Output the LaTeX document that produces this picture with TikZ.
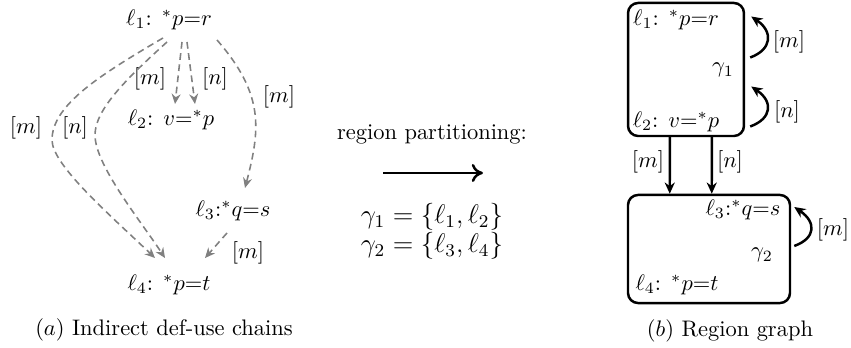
\documentclass[tikz,border=0pt]{standalone}
\usetikzlibrary{arrows.meta,calc}
\begin{document}
\begin{tikzpicture}[x=0.445pt,y=-0.445pt,
  lbl/.style={inner sep=1pt},
  grayarr/.style={draw=gray,line width=0.7pt,dash pattern=on 3pt off 2pt,-{Stealth[length=4.5pt,width=4pt]}},
  blk/.style={draw=black,line width=1.1pt,-{Stealth[length=5pt,width=4.5pt]}},
  box/.style={draw=black,line width=1.1pt,rounded corners=4.5pt,inner sep=0pt}]
\useasboundingbox (0,0) rectangle (851,348);
% ---------- left panel
\node[lbl] (l1) at (169,20) {$\ell_1$: ${}^*p{=}r$};
\node[lbl] (l2) at (171,120) {$\ell_2$: $v{=}{}^*p$};
\node[lbl] (l3) at (233,211) {$\ell_3$:${}^*q{=}s$};
\node[lbl] (l4) at (169,285) {$\ell_4$: ${}^*p{=}t$};
\node (ca) at (164,330) {$(a)$ Indirect def-use chains};

\draw[grayarr] ($(l1)+(13,22)$) -- ($(l2)+(4,-16)$);
\draw[grayarr] ($(l1)+(18,22)$) -- ($(l2)+(24,-16)$);
\node[lbl] (m1) at (150,79) {$[m]$};
\node[lbl] (n1) at (215,79) {$[n]$};

\draw[grayarr] ($(l1)+(48,20)$) .. controls (265,95) and (260,130) .. ($(l3)+(12,-23)$);
\node[lbl] (m2) at (279,97) {$[m]$};

\draw[grayarr] ($(l1)+(-6,18)$) .. controls (100,75) and (52,105) .. (52,140)
   .. controls (52,165) and (110,215) .. ($(l4)+(-14,-27)$);
\draw[grayarr] ($(l1)+(-2,22)$) .. controls (125,80) and (95,110) .. (95,135)
   .. controls (95,165) and (140,220) .. ($(l4)+(-4,-27)$);
\node[lbl] (m3) at (26,128) {$[m]$};
\node[lbl] (n3) at (75,128) {$[n]$};

\draw[grayarr] ($(l3)+(-6,22)$) -- ($(l4)+(36,-27)$);
\node[lbl] (m4) at (248,253) {$[m]$};

% ---------- middle
\node (rp) at (432,134) {region partitioning:};
\coordinate (ra) at (383,173);
\coordinate (rb) at (483,173);
\draw[line width=1.1pt,-{To[length=5pt,width=8pt]}] (ra) -- (rb);
\node[font=\large] (e1) at (432,217) {$\gamma_1 = \{\ell_1,\ell_2\}$};
\node[font=\large] (e2) at (432,246) {$\gamma_2 = \{\ell_3,\ell_4\}$};

% ---------- right panel
\node[box,minimum width=51.6pt,minimum height=59.2pt] (g1) at (686,69.5) {};
\node[box,minimum width=72.1pt,minimum height=48.1pt] (g2) at (709,249) {};
\node[lbl] (r1) at (676,20) {$\ell_1$: ${}^*p{=}r$};
\node[lbl] (gg1) at (723,70) {$\gamma_1$};
\node[lbl] (r2) at (676,122) {$\ell_2$: $v{=}{}^*p$};
\node[lbl] (r3) at (743,210) {$\ell_3$:${}^*q{=}s$};
\node[lbl] (gg2) at (762,255) {$\gamma_2$};
\node[lbl] (r4) at (677,285) {$\ell_4$: ${}^*p{=}t$};
\node (cb) at (730,331) {$(b)$ Region graph};

\draw[blk] ($(g1.east)+(5,-12)$) .. controls +(22,-8) and +(22,15) .. ($(g1.east)+(6,-53)$);
\node[lbl] (m5) at (789,42) {$[m]$};
\draw[blk] ($(g1.east)+(5,57)$) .. controls +(22,-8) and +(22,15) .. ($(g1.east)+(6,17)$);
\node[lbl] (n5) at (787,112) {$[n]$};
\draw[blk] ($(g2.east)+(3,-3)$) .. controls +(22,-8) and +(22,15) .. ($(g2.east)+(3,-42)$);
\node[lbl] (m6) at (833,230) {$[m]$};

\draw[blk] ($(g1.south west)+(43,0)$) -- ($(g2.north west)+(43,0)$);
\draw[blk] ($(g1.south west)+(85,0)$) -- ($(g2.north west)+(85,0)$);
\node[lbl] (m7) at (648,162) {$[m]$};
\node[lbl] (n7) at (730,162) {$[n]$};
\end{tikzpicture}
\end{document}
